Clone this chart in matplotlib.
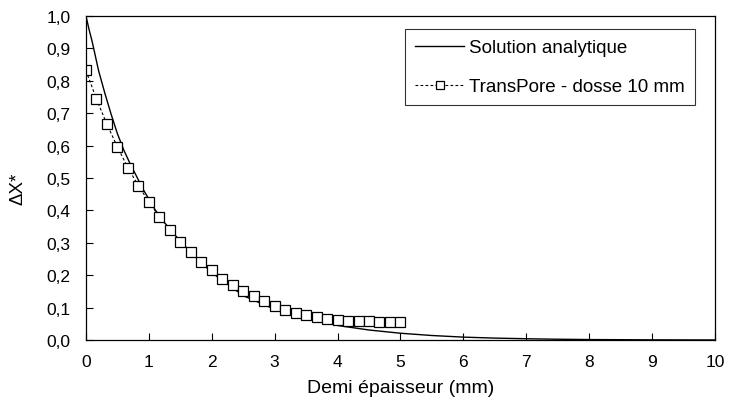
"""Profil de concentration adimensionnel : solution analytique vs TransPore."""

import matplotlib

matplotlib.use("Agg")
import matplotlib.pyplot as plt
from matplotlib.ticker import FuncFormatter

plt.rcParams["font.family"] = ["Liberation Sans", "DejaVu Sans"]

# Solution analytique
x_analytique = [0.0, 0.05, 0.1, 0.2, 0.3, 0.4, 0.5, 0.6, 0.7, 0.8, 0.9, 1.0, 1.1, 1.25,
                1.5, 1.75, 2.0, 2.5, 3.0, 3.5, 4.0, 4.5, 5.0, 5.5, 6.0, 6.5, 7.0, 7.5,
                8.0, 9.0, 10.0]
y_analytique = [1.0, 0.958, 0.92, 0.832, 0.762, 0.697, 0.637, 0.587, 0.545, 0.507, 0.468,
                0.435, 0.402, 0.362, 0.305, 0.255, 0.208, 0.137, 0.095, 0.066, 0.045,
                0.031, 0.021, 0.014, 0.009, 0.006, 0.004, 0.0025, 0.0015, 0.0006,
                0.0002]

# TransPore - dosse 10 mm
x_transpore = [i / 6 for i in range(31)]
y_transpore = [0.832, 0.744, 0.666, 0.596, 0.532, 0.476, 0.427, 0.38, 0.341, 0.304,
               0.271, 0.241, 0.215, 0.189, 0.169, 0.15, 0.135, 0.12, 0.105, 0.094,
               0.084, 0.077, 0.071, 0.066, 0.062, 0.060, 0.059, 0.058, 0.057, 0.057,
               0.057]

fig = plt.figure(figsize=(7.31, 4.06), dpi=100)
ax = fig.add_axes([0.1176, 0.16, 0.8604, 0.798])

ax.plot(x_analytique, y_analytique, "-", color="black", lw=1.0,
        label="Solution analytique")
ax.plot(x_transpore, y_transpore, color="black", lw=0.8, ls=(0, (2.5, 2)),
        marker="s", markersize=7.5, markerfacecolor="white",
        markeredgecolor="black", markeredgewidth=0.9,
        label="TransPore - dosse 10 mm")

ax.set_xlim(0, 10)
ax.set_ylim(0, 1.0)
ax.set_xticks(range(0, 11))
ax.set_yticks([i / 10 for i in range(11)])
ax.yaxis.set_major_formatter(FuncFormatter(lambda v, _: f"{v:.1f}".replace(".", ",")))
ax.tick_params(direction="in", length=5, width=0.8, labelsize=12.5,
               top=False, right=False)
ax.tick_params(axis="x", pad=10)
ax.tick_params(axis="y", pad=11)
for s in ax.spines.values():
    s.set_linewidth(0.9)

ax.set_xlabel("Demi épaisseur (mm)", fontsize=14, labelpad=7)
ax.set_ylabel("ΔX*", fontsize=13.5)
ax.yaxis.set_label_coords(-0.094, 0.47)

leg = ax.legend(loc="upper right", bbox_to_anchor=(0.968, 0.96), fontsize=13.5,
                frameon=True, fancybox=False, edgecolor="black", handlelength=2.6,
                handletextpad=0.25, borderpad=0.55, labelspacing=1.15,
                borderaxespad=0, markerscale=0.8)
leg.get_frame().set_linewidth(0.8)

fig.savefig("out.png", dpi=100)
